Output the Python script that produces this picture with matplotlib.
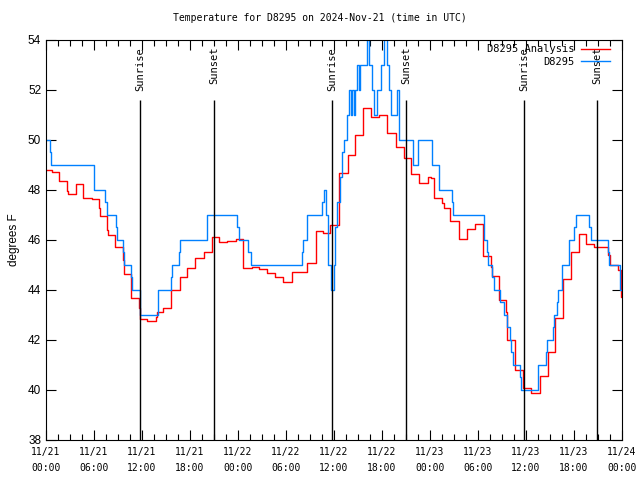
import matplotlib
matplotlib.use('Agg')
import matplotlib.pyplot as plt
from matplotlib.ticker import MultipleLocator

# horas desde 11/21 00:00 UTC
titulo = 'Temperature for D8295 on 2024-Nov-21 (time in UTC)'

# serie observada D8295 (pontos de mudanca, degrau)
obs_horas = [0.0, 0.5, 0.67, 6.0, 7.4, 7.6, 8.75, 8.85, 9.65, 9.8, 10.65, 10.75,
             11.8, 14.0, 15.65, 15.8, 16.6, 16.7, 20.1, 23.9, 24.1, 25.3, 25.6,
             32.05, 32.15, 32.6, 34.5, 34.8, 35.05, 35.25, 35.6, 36.0, 36.1, 36.35,
             36.75, 36.95, 37.25, 37.6, 37.9, 38.1, 38.25, 38.5, 38.6, 38.9, 39.1,
             39.25, 40.1, 40.4, 40.75, 41.0, 41.4, 41.9, 42.25, 42.6, 42.9, 43.1,
             43.9, 44.1, 45.9, 46.5, 48.2, 49.1, 50.8, 50.9, 54.7, 55.1, 55.25,
             55.75, 56.0, 56.75, 57.3, 57.65, 58.0, 58.1, 58.4, 59.25, 59.4, 61.5,
             62.45, 62.6, 63.35, 63.55, 63.85, 64.05, 64.45, 64.55, 65.4, 66.05,
             66.2, 67.9, 68.1, 70.25, 70.4, 71.75, 72.0]
obs_temp = [50.0, 49.5, 49.0, 48.0, 47.5, 47.0, 46.5, 46.0, 45.5, 45.0, 44.5, 44.0,
            43.0, 44.0, 44.5, 45.0, 45.5, 46.0, 47.0, 46.5, 46.0, 45.5, 45.0,
            45.5, 46.0, 47.0, 47.5, 48.0, 47.0, 45.0, 44.0, 45.0, 46.5, 47.5,
            48.5, 49.5, 50.0, 51.0, 52.0, 51.0, 52.0, 51.0, 52.0, 53.0, 52.0,
            53.0, 54.5, 53.0, 52.0, 51.0, 52.0, 53.0, 54.5, 53.0, 52.0, 51.0,
            52.0, 50.0, 49.0, 50.0, 49.0, 48.0, 47.5, 47.0, 46.0, 45.5, 45.0,
            44.5, 44.0, 43.5, 43.0, 42.5, 42.0, 41.5, 41.0, 40.5, 40.0, 41.0,
            41.5, 42.0, 42.5, 43.0, 43.5, 44.0, 44.5, 45.0, 46.0, 46.5,
            47.0, 46.5, 46.0, 45.5, 45.0, 44.0, 44.0]

# serie da analise
ana_horas = [0.0, 0.7, 1.65, 2.6, 2.75, 3.7, 4.65, 5.8, 6.65, 6.8, 7.6, 7.8, 8.65,
             9.65, 9.8, 10.6, 11.65, 11.8, 12.65, 13.7, 13.85, 14.65, 15.65, 16.7,
             16.8, 17.65, 18.65, 19.75, 20.75, 21.65, 22.6, 23.75, 24.6, 25.7,
             26.65, 27.6, 28.65, 29.65, 30.7, 32.65, 33.7, 34.65, 35.5, 36.65,
             37.7, 38.6, 39.65, 40.6, 41.65, 42.65, 43.7, 44.75, 45.65, 46.65,
             47.8, 48.1, 48.5, 49.5, 49.8, 50.55, 51.6, 52.6, 53.6, 54.6, 55.6,
             55.7, 56.6, 57.5, 57.6, 58.6, 59.6, 60.6, 61.7, 62.7, 63.6, 64.6,
             65.6, 66.6, 67.5, 68.55, 70.25, 70.5, 71.5, 71.85, 72.0]
ana_temp = [48.8, 48.73, 48.37, 47.97, 47.84, 48.24, 47.67, 47.63, 47.3, 46.96, 46.4,
            46.19, 45.7, 45.2, 44.63, 43.67, 43.3, 42.83, 42.76, 42.92, 43.1, 43.3,
            44.0, 44.24, 44.5, 44.87, 45.3, 45.5, 46.1, 45.9, 45.97, 46.04, 44.87,
            44.9, 44.83, 44.67, 44.5, 44.32, 44.7, 45.07, 46.36, 46.27, 46.6,
            48.67, 49.4, 50.2, 51.27, 50.9, 51.0, 50.27, 49.7, 49.27, 48.64, 48.3,
            48.53, 48.47, 47.67, 47.47, 47.3, 46.76, 46.03, 46.44, 46.63, 45.36,
            44.93, 44.56, 43.6, 43.1, 42.0, 40.8, 40.07, 39.87, 40.57, 41.5, 42.87,
            44.43, 45.53, 46.23, 45.83, 45.73, 45.4, 45.0, 44.8, 43.7, 43.7]

# nascer e por do sol
sol_horas = [11.75, 21.0, 35.75, 45.0, 59.75, 68.9]
sol_nomes = ['Sunrise', 'Sunset', 'Sunrise', 'Sunset', 'Sunrise', 'Sunset']

rotulos_x = ['11/21\n00:00', '11/21\n06:00', '11/21\n12:00', '11/21\n18:00',
             '11/22\n00:00', '11/22\n06:00', '11/22\n12:00', '11/22\n18:00',
             '11/23\n00:00', '11/23\n06:00', '11/23\n12:00', '11/23\n18:00',
             '11/24\n00:00']
ticks_x = [6 * i for i in range(len(rotulos_x))]
ticks_y = [38, 40, 42, 44, 46, 48, 50, 52, 54]

mono = 'DejaVu Sans Mono'

fig = plt.figure(figsize=(6.4, 4.8), dpi=100)
ax = fig.add_axes([46/640, 40/480, 576/640, 400/480])

ax.step(ana_horas, ana_temp, where='post', color='#ff0000', lw=1.0, label='D8295 Analysis')
ax.step(obs_horas, obs_temp, where='post', color='#0080ff', lw=1.0, label='D8295')

for h, nome in zip(sol_horas, sol_nomes):
    ax.vlines(h, 38, 51.6, color='black', lw=1.0)
    ax.text(h, 53.72, nome, rotation=90, ha='center', va='top',
            fontsize=7.5, family=mono)

ax.set_xlim(0, 72)
ax.set_ylim(38, 54)
ax.set_xticks(ticks_x)
ax.set_xticklabels(rotulos_x, family=mono, fontsize=7, linespacing=1.75)
ax.xaxis.set_minor_locator(MultipleLocator(1.5))
ax.set_yticks(ticks_y)
ax.set_yticklabels([str(v) for v in ticks_y], family='Liberation Sans', fontsize=8.5)
ax.tick_params(which='both', direction='in', top=True, right=True)
ax.tick_params(which='major', length=7, width=0.8)
ax.tick_params(which='minor', length=4, width=0.8)
ax.tick_params(axis='x', which='major', pad=5)
for s in ax.spines.values():
    s.set_linewidth(0.8)

ax.set_ylabel('degrees F', family='Liberation Sans', fontsize=8.5, labelpad=6)
fig.suptitle(titulo, family=mono, fontsize=7, y=0.972)

ax.legend(loc='upper right', bbox_to_anchor=(0.9865, 1.0), frameon=False,
          markerfirst=False, prop={'family': mono, 'size': 7.5}, handlelength=2.8,
          borderaxespad=0.0, labelspacing=0.25, handletextpad=0.65)

fig.savefig('out.png', dpi=100)
